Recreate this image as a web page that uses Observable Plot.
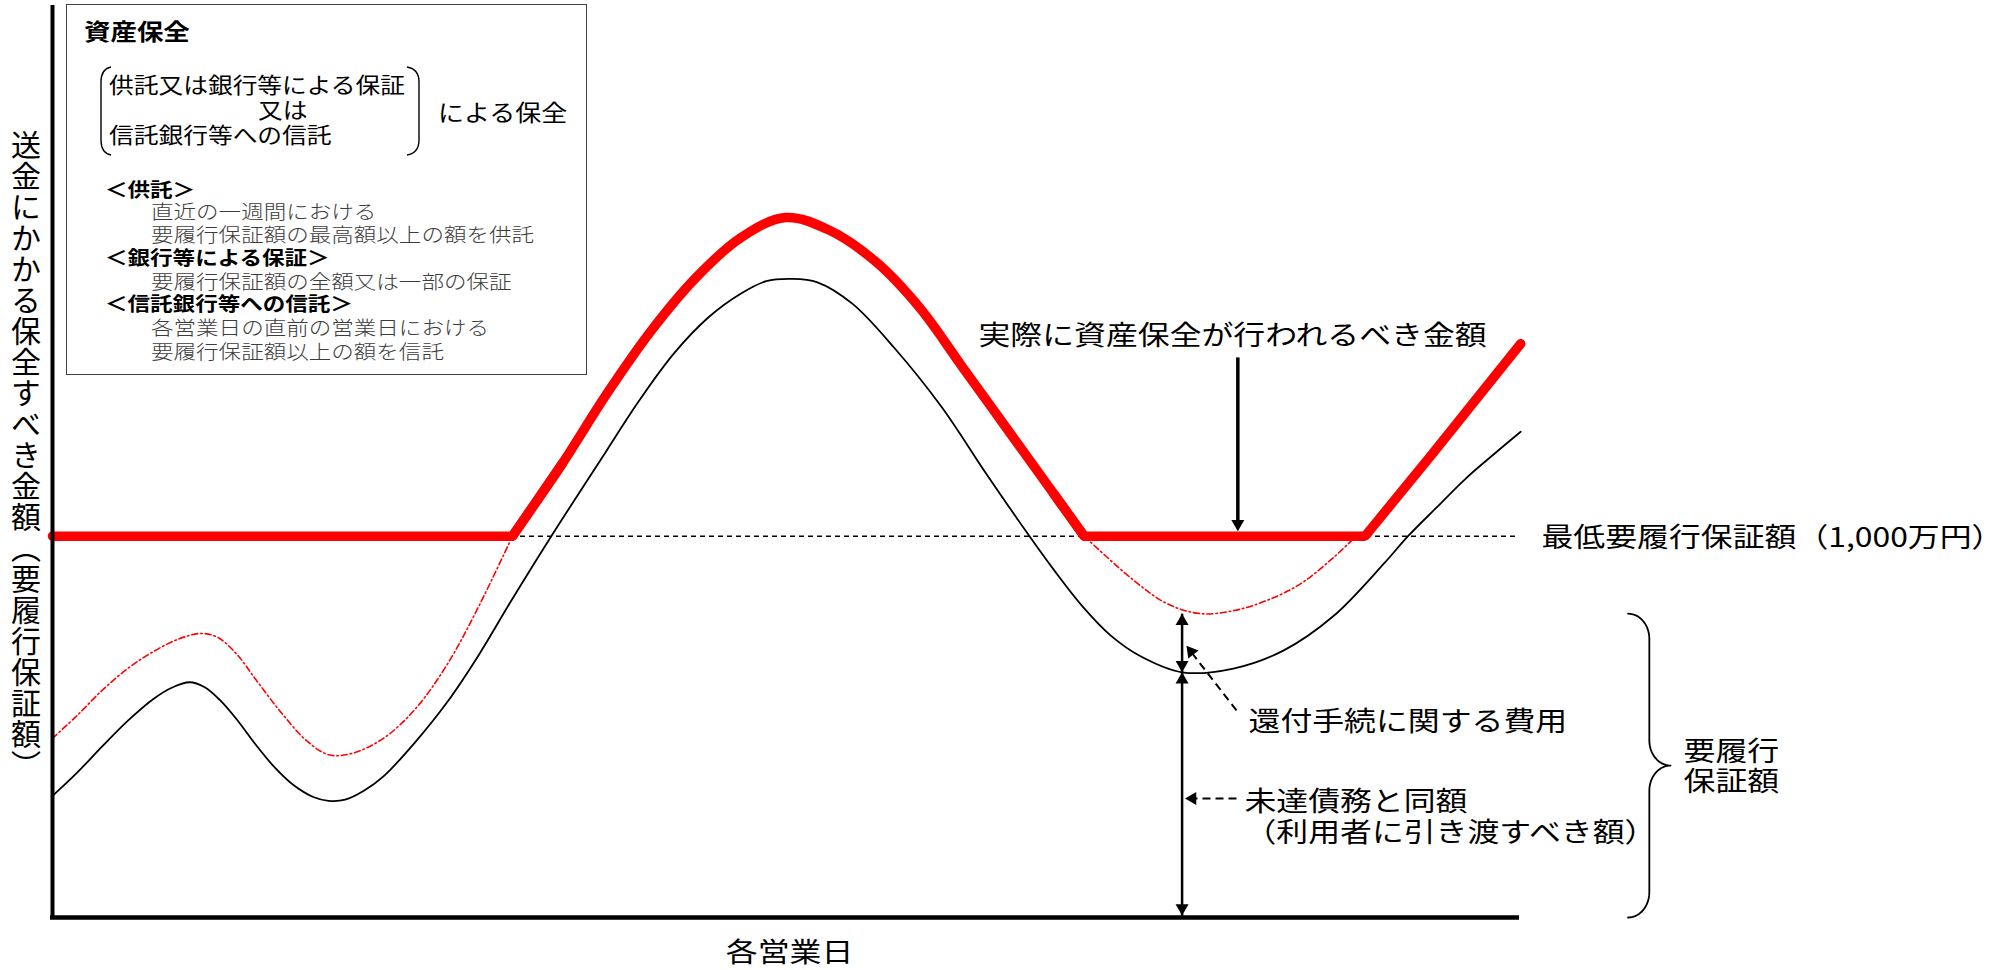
<!DOCTYPE html>
<html lang="ja">
<head>
<meta charset="utf-8">
<script src="https://cdn.jsdelivr.net/npm/d3@7"></script>
<script src="https://cdn.jsdelivr.net/npm/@observablehq/plot@0.6"></script>
<style>
  html, body { margin: 0; padding: 0; background: #fff; }
  #wrap { position: relative; width: 2001px; height: 970px; overflow: hidden;
          font-family: 'Noto Sans CJK JP', 'Noto Sans', sans-serif; }
  #wrap > svg { position: absolute; left: 0; top: 0; }
  .box { position: absolute; left: 66px; top: 4px; width: 519px; height: 369px;
         border: 1.5px solid #404040; box-sizing: content-box; }
  .ln { position: absolute; white-space: nowrap; line-height: 1;
        transform: scaleX(1.15); transform-origin: 0 50%; color: #000; }
  .b { font-weight: 700; }
  .thin { color: #3c3c3c; font-weight: 300; }
  .ylab { position: absolute; left: 10px; top: 130px; writing-mode: vertical-rl;
          font-size: 30px; line-height: 31px; letter-spacing: 1px; color: #000; white-space: nowrap; }
</style>
</head>
<body>
<div id="wrap">
  <div class="box"></div>
  <svg style="position:absolute;left:0;top:0;overflow:visible" width="600" height="200">
    <path d="M111,67 Q101,69 101,82 L101,140 Q101,153 111,155" fill="none" stroke="#000" stroke-width="1.4"/>
    <path d="M407,67 Q419,69 419,82 L419,140 Q419,153 407,155" fill="none" stroke="#000" stroke-width="1.4"/>
  </svg>
  <div class="ln b" style="left:84px;top:19.4px;font-size:23px;">資産保全</div>
  <div class="ln" style="left:109px;top:73.2px;font-size:21.5px;">供託又は銀行等による保証</div>
  <div class="ln" style="left:258px;top:98.2px;font-size:21.5px;">又は</div>
  <div class="ln" style="left:109px;top:123.2px;font-size:21.5px;">信託銀行等への信託</div>
  <div class="ln" style="left:438px;top:100.6px;font-size:22.6px;">による保全</div>
  <div class="ln b" style="left:105px;top:179.2px;font-size:19.6px;">＜供託＞</div>
  <div class="ln thin" style="left:151px;top:201.2px;font-size:19.6px;">直近の一週間における</div>
  <div class="ln thin" style="left:151px;top:224.2px;font-size:19.6px;">要履行保証額の最高額以上の額を供託</div>
  <div class="ln b" style="left:105px;top:247.2px;font-size:19.6px;">＜銀行等による保証＞</div>
  <div class="ln thin" style="left:151px;top:271.2px;font-size:19.6px;">要履行保証額の全額又は一部の保証</div>
  <div class="ln b" style="left:105px;top:293.2px;font-size:19.6px;">＜信託銀行等への信託＞</div>
  <div class="ln thin" style="left:151px;top:317.2px;font-size:19.6px;">各営業日の直前の営業日における</div>
  <div class="ln thin" style="left:151px;top:341.2px;font-size:19.6px;">要履行保証額以上の額を信託</div>
  <div class="ylab">送金にかかる保全すべき金額（要履行保証額）</div>
</div>
<script>
// ---------- data (x: business-day position, y: amount in 万円) ----------
const minGuarantee = 1000;

const requiredDays = [0, 1.68, 3.42, 5.16, 6.90, 8.20, 9.33, 10.38, 11.42, 12.55, 13.86, 15.16, 16.47, 17.77, 18.82,
  19.95, 21.25, 22.56, 24.73, 26.91, 29.08, 31.26, 34.0, 37.78, 39.96, 42.35, 44.74, 46.91, 48.66, 50.41, 52.14,
  54.52, 57.36, 60.61, 63.65, 66.6, 68.49, 70.30, 72.12, 74.17, 77.0, 80.5, 83.9, 87.3, 90.8, 92.4, 94.34, 96.3,
  98.25, 100.08];
const requiredAmounts = [319, 380, 450, 517, 574, 604, 617, 604, 570, 520, 453, 393, 346, 316, 306,
  309, 333, 370, 460, 565, 690, 830, 1000, 1225, 1354, 1479, 1575, 1636, 1669, 1675, 1666,
  1610, 1495, 1339, 1164, 1000, 900, 812, 740, 685, 643, 653, 700, 790, 930, 1000, 1075, 1150,
  1215, 1274];

const withCostLeftDays = [0, 1.68, 3.42, 5.16, 6.90, 8.64, 10.12, 11.25, 12.55, 13.86, 15.60, 17.34, 18.82, 20.38,
  22.56, 24.73, 26.91, 29.08, 31.35];
const withCostLeftAmounts = [470, 530, 597, 654, 698, 731, 745, 735, 691, 624, 537, 463, 427, 430,
  470, 547, 664, 818, 1000];

const withCostRightDays = [70.33, 73.71, 75.98, 78.25, 80.53, 82.8, 85.07, 87.34, 88.86];
const withCostRightAmounts = [1000, 884, 823, 797, 805, 832, 875, 945, 1000];

const actualDays = [0, 31.35, 34.74, 37.79, 40.83, 43.88, 46.92, 49.97, 52.93, 56.06, 59.10, 62.06, 65.19, 68.24,
  70.33, 89.47, 94.08, 100.08];
const actualAmounts = [1000, 1000, 1190, 1374, 1540, 1679, 1783, 1836, 1803, 1722, 1600, 1442, 1275, 1112,
  1000, 1000, 1217, 1505];

const labelTexts = ["実際に資産保全が行われるべき金額", "最低要履行保証額（1,000万円）", "還付手続に関する費用",
  "未達債務と同額", "（利用者に引き渡すべき額）", "要履行", "保証額"];
const labelDays = [63.12, 101.5, 81.53, 81.25, 81.25, 111.18, 111.18];
const labelAmounts = [1524, 994, 511, 302, 220, 433, 354];

const xTitle = "各営業日";
const xTitleDay = 50.24, xTitleAmount = -94;

const pointerDay = 80.8;          // arrow pointing at the actual amount
const pointerFrom = 1469;
const noteDay = 80.71;            // start of the dashed pointers
const costNoteAmount = 543;
const debtNoteAmount = 312;

// ---------- tables built from the arrays ----------
const zip = (xs, ys) => xs.map((d, i) => ({day: d, amount: ys[i]}));
const required = zip(requiredDays, requiredAmounts);
const withCostLeft = zip(withCostLeftDays, withCostLeftAmounts);
const withCostRight = zip(withCostRightDays, withCostRightAmounts);
const actual = zip(actualDays, actualAmounts);
const labels = labelTexts.map((t, i) => ({text: t, day: labelDays[i], amount: labelAmounts[i]}));

// trough of the required amount inside the second dip
const ti = d3.minIndex(requiredAmounts, (v, i) => requiredDays[i] > 60 ? v : NaN);
const troughDay = requiredDays[ti], troughAmt = requiredAmounts[ti];
const guaranteeTop = d3.min(withCostRightAmounts);

function bracePts(xL, xT, top, bottom, rx, ry) {
  const mid = (top + bottom) / 2, n = 14, pts = [];
  const arc = (cx, cy, a0, a1) => { for (let k = 0; k <= n; k++) { const a = a0 + (a1 - a0) * k / n; pts.push({day: cx + rx * Math.cos(a), amount: cy + ry * Math.sin(a)}); } };
  arc(xL, top - ry, Math.PI / 2, 0);
  arc(xT, mid + ry, Math.PI, 3 * Math.PI / 2);
  arc(xT, mid - ry, Math.PI / 2, Math.PI);
  arc(xL, bottom + ry, 0, -Math.PI / 2);
  return pts;
}
const braceLine = bracePts(107.4, 110.3, guaranteeTop, 0, 1.45, 66);

const head = (rows, rot, dx, dy) => Plot.dot(rows, {x: "day", y: "amount", symbol: "triangle2", r: 6.2,
  fill: "black", stroke: "none", rotate: rot, dx, dy});

const plot = Plot.plot({
  width: 2001, height: 970,
  marginLeft: 52, marginRight: 482, marginTop: 5, marginBottom: 53,
  x: {domain: [0, 100], axis: null},
  y: {domain: [0, 2392], axis: null},
  style: {fontFamily: "'Noto Sans CJK JP', sans-serif", fontSize: "27px", color: "black", background: "transparent", overflow: "visible"},
  marks: [
    Plot.ruleY([minGuarantee], {x1: 0, x2: 100, stroke: "black", strokeWidth: 1.5, strokeDasharray: "5,4"}),
    Plot.line(required, {x: "day", y: "amount", curve: "catmull-rom", stroke: "black", strokeWidth: 1.8}),
    Plot.line(withCostLeft, {x: "day", y: "amount", curve: "catmull-rom", stroke: "red", strokeWidth: 1.6, strokeDasharray: "6,3,1.5,3"}),
    Plot.line(withCostRight, {x: "day", y: "amount", curve: "catmull-rom", stroke: "red", strokeWidth: 1.6, strokeDasharray: "6,3,1.5,3"}),
    // pointer to the actual amount
    Plot.link([{a: pointerFrom, b: minGuarantee + 30}], {x1: () => pointerDay, x2: () => pointerDay, y1: "a", y2: "b", stroke: "black", strokeWidth: 3.5}),
    // actual amount to be protected (thick red)
    Plot.line(actual.slice(0, 3), {x: "day", y: "amount", stroke: "red", strokeWidth: 9.5, strokeLinejoin: "miter"}),
    Plot.line(actual.slice(1, 15), {x: "day", y: "amount", curve: "catmull-rom", stroke: "red", strokeWidth: 9.5}),
    Plot.line(actual.slice(13), {x: "day", y: "amount", stroke: "red", strokeWidth: 9.5, strokeLinejoin: "miter"}),
    head([{day: pointerDay, amount: minGuarantee}], 180, 0, -12.5),
    // axes
    Plot.ruleX([0], {y1: 0, y2: 2392, stroke: "black", strokeWidth: 4}),
    Plot.ruleY([0], {x1: -0.14, x2: 100, stroke: "black", strokeWidth: 4.5}),
    // cost / debt double arrows
    Plot.link([{a: troughAmt, b: guaranteeTop}], {x1: () => troughDay, x2: () => troughDay, y1: "a", y2: "b", stroke: "black", strokeWidth: 2.5}),
    Plot.link([{a: 0, b: troughAmt}], {x1: () => troughDay, x2: () => troughDay, y1: "a", y2: "b", stroke: "black", strokeWidth: 2.5}),
    head([{day: troughDay, amount: guaranteeTop}, {day: troughDay, amount: troughAmt}], 0, 0, 7.5),
    head([{day: troughDay, amount: troughAmt}], 180, 0, -7.5),
    head([{day: troughDay, amount: 0}], 180, 0, -9.5),
    // dashed pointers from the notes
    Plot.link([{x1: noteDay, y1: costNoteAmount, x2: troughDay + 0.55, y2: 700}], {x1: "x1", y1: "y1", x2: "x2", y2: "y2", stroke: "black", strokeWidth: 2, strokeDasharray: "8,5"}),
    head([{day: troughDay + 0.3, amount: 713}], -38, 4.6, 5.9),
    Plot.link([{x1: noteDay, x2: troughDay + 0.4, y: debtNoteAmount}], {x1: "x1", x2: "x2", y1: "y", y2: "y", stroke: "black", strokeWidth: 2, strokeDasharray: "8,5"}),
    head([{day: troughDay + 0.2, amount: debtNoteAmount}], -90, 7.5, 0),
    // brace for 要履行保証額
    Plot.line(braceLine, {x: "day", y: "amount", stroke: "black", strokeWidth: 1.8, curve: "linear"}),
    // labels
    Plot.text(labels, {x: "day", y: "amount", text: "text", textAnchor: "start", fill: "black", fontSize: 27, lineAnchor: "middle"}),
    Plot.text([xTitle], {x: () => xTitleDay, y: () => xTitleAmount, text: (d) => d, textAnchor: "middle", fill: "black", fontSize: 27, lineAnchor: "middle"})
  ]
});

document.getElementById("wrap").appendChild(plot);
plot.querySelectorAll("text").forEach((t) => {
  const L = t.getComputedTextLength();
  if (L > 0) {
    t.setAttribute("textLength", (L * 1.18).toFixed(1));
    t.setAttribute("lengthAdjust", "spacingAndGlyphs");
  }
});
</script>
</body>
</html>
